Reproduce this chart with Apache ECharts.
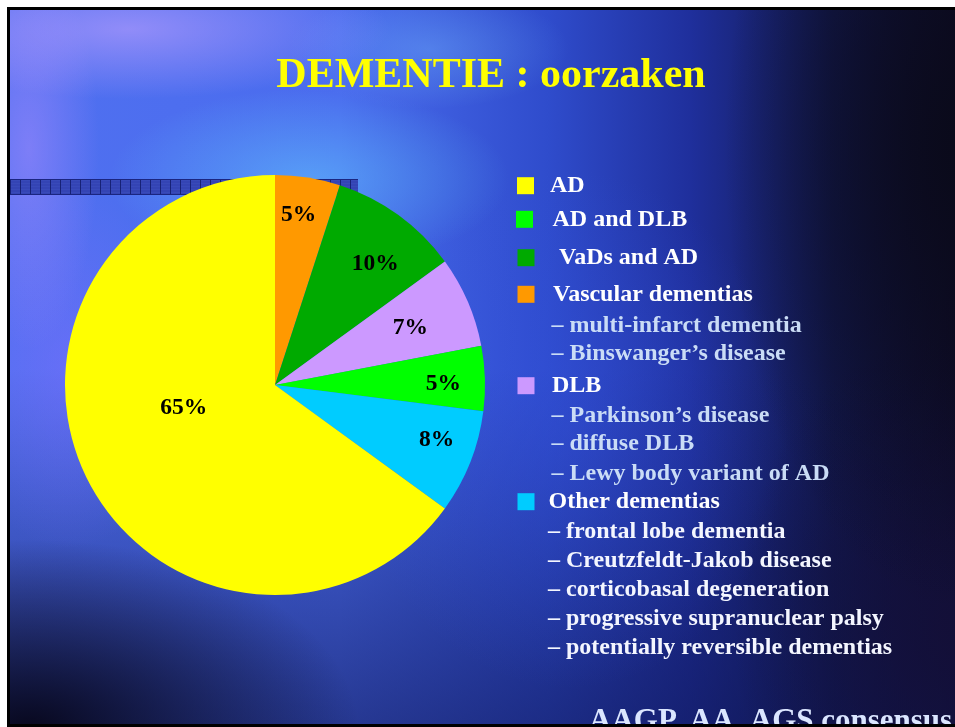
<!DOCTYPE html>
<html>
<head>
<meta charset="utf-8">
<script src="https://cdn.jsdelivr.net/npm/echarts@6/dist/echarts.min.js"></script>
<style>
  html, body { margin: 0; padding: 0; background: #fff; }
  #wrap { position: relative; width: 955px; height: 727px; overflow: hidden; background: #fff; }
  #bg {
    position: absolute; left: 9px; top: 9px; width: 946px; height: 718px;
    background:
      radial-gradient(ellipse 260px 70px at 120px 20px, rgba(190,160,255,0.6), rgba(190,160,255,0) 100%),
      radial-gradient(ellipse 70px 200px at 20px 140px, rgba(170,140,255,0.5), rgba(170,140,255,0) 100%),
      radial-gradient(ellipse 200px 90px at 300px 170px, rgba(100,205,255,0.5), rgba(100,205,255,0) 100%),
      radial-gradient(ellipse 140px 60px at 420px 40px, rgba(120,190,255,0.35), rgba(120,190,255,0) 100%),
      radial-gradient(ellipse 120px 180px at 60px 360px, rgba(130,110,255,0.45), rgba(130,110,255,0) 100%),
      radial-gradient(ellipse 330px 190px at 20px 720px, rgba(8,8,30,1), rgba(8,8,30,0) 100%),
      radial-gradient(ellipse 240px 460px at 955px 140px, rgba(10,10,26,1), rgba(10,10,26,0) 100%),
      radial-gradient(ellipse 220px 300px at 945px 620px, rgba(20,15,55,0.85), rgba(20,15,55,0) 100%),
      radial-gradient(ellipse 220px 260px at 560px 420px, rgba(50,80,220,0.45), rgba(50,80,220,0) 100%),
      linear-gradient(to bottom, rgba(10,15,60,0) 50%, rgba(15,22,85,0.6) 100%),
      linear-gradient(to right, #5070f0 0%, #4a6cee 35%, #2f4ccc 57%, #1f2f9c 72%, #12184c 87%, #0f0c2a 100%);
  }
  #bar {
    position: absolute; left: 10px; top: 179px; width: 348px; height: 14px;
    background:
      repeating-linear-gradient(to right, rgba(20,30,110,0.9) 0 1px, rgba(0,0,0,0) 1px 10px),
      repeating-linear-gradient(to bottom, rgba(60,80,190,0.5) 0 1px, rgba(0,0,0,0) 1px 3px),
      #3444b4;
    border-top: 1px solid #1a2580; border-bottom: 1px solid #1a2580;
  }
  #chart { position: absolute; left: 0; top: 0; width: 955px; height: 727px; }
  .frame { position: absolute; background: #000; }
</style>
</head>
<body>
<div id="wrap">
  <div id="bg"></div>
  <div id="bar"></div>
  <div id="chart"></div>
  <div class="frame" style="left:7px;top:7px;width:948px;height:3px;"></div>
  <div class="frame" style="left:7px;top:7px;width:3px;height:720px;"></div>
  <div class="frame" style="left:7px;top:724px;width:948px;height:3px;"></div>
</div>
<script>
// ---- data ----
const titleText = 'DEMENTIE : oorzaken';
const categories = ['Vascular dementias', 'VaDs and AD', 'DLB', 'AD and DLB', 'Other dementias', 'AD'];
const values = [5, 10, 7, 5, 8, 65];
const legendOrder = ['AD', 'AD and DLB', 'VaDs and AD', 'Vascular dementias', 'DLB', 'Other dementias'];
const subVascular = ['– multi-infarct dementia', '– Binswanger’s disease'];
const subDLB = ['– Parkinson’s disease', '– diffuse DLB', '– Lewy body variant of AD'];
const subOther = ['– frontal lobe dementia', '– Creutzfeldt-Jakob disease', '– corticobasal degeneration', '– progressive supranuclear palsy', '– potentially reversible dementias'];
const footerText = 'AAGP, AA, AGS consensus';

// ---- styles ----
const colorMap = {
  'AD': '#ffff00', 'AD and DLB': '#00ff00', 'VaDs and AD': '#00aa00',
  'Vascular dementias': '#ff9900', 'DLB': '#cc99ff', 'Other dementias': '#00ccff'
};
const labelShift = {
  'Vascular dementias': [-3, -2], 'VaDs and AD': [0, 17], 'DLB': [-21, 11],
  'AD and DLB': [-2, 4], 'Other dementias': [3, -8], 'AD': [5, -26]
};
const FONT = '"Liberation Serif", "Times New Roman", serif';
const legendPos = {
  'AD': { left: 517, cy: 185.7, pad: 11 },
  'AD and DLB': { left: 516, cy: 219.3, pad: 14.5 },
  'VaDs and AD': { left: 517.5, cy: 257.7, pad: 19.5 },
  'Vascular dementias': { left: 517.5, cy: 294.3, pad: 13.5 },
  'DLB': { left: 517.5, cy: 385.7, pad: 12.5 },
  'Other dementias': { left: 517.5, cy: 501.7, pad: 9 }
};
const LFS = 24;

const chart = echarts.init(document.getElementById('chart'), null, { renderer: 'canvas' });

const legends = legendOrder.map(name => ({
  data: [name],
  left: legendPos[name].left,
  top: legendPos[name].cy - 12,
  orient: 'vertical',
  icon: 'rect',
  itemWidth: 17, itemHeight: 17,
  padding: 0,
  selectedMode: false,
  textStyle: {
    color: '#ffffff', fontFamily: FONT, fontWeight: 'bold', fontSize: LFS,
    lineHeight: 24, padding: [0, 0, 0, legendPos[name].pad]
  }
}));

const subGraphics = [];
const addSubs = (arr, x, ys, color) => arr.forEach((t, i) => subGraphics.push({
  type: 'text', x: x, y: ys[i], silent: true,
  style: { text: t, font: 'bold ' + LFS + 'px ' + FONT, fill: color, verticalAlign: 'middle', align: 'left' }
}));
addSubs(subVascular, 551.5, [325.5, 354], '#cadcf6');
addSubs(subDLB, 551.5, [415.5, 444, 473.5], '#cadcf6');
addSubs(subOther, 548, [532, 561, 590, 619, 648], '#f4f6ff');

const labelFont = { color: '#000', fontFamily: FONT, fontWeight: 'bold', fontSize: 23.5 };

chart.setOption({
  backgroundColor: 'transparent',
  animation: false,
  title: {
    text: titleText, left: 486, top: 50, textAlign: 'center',
    textStyle: { color: '#ffff00', fontFamily: FONT, fontWeight: 'bold', fontSize: 42 }
  },
  legend: legends,
  series: [
    {
      type: 'pie', center: [275, 385], radius: [0, 210], startAngle: 90, clockwise: true,
      silent: true, itemStyle: { borderWidth: 0 },
      label: { show: false },
      labelLine: { show: false },
      data: categories.map((name, i) => ({
        name, value: values[i], itemStyle: { color: colorMap[name] },
        label: name === 'AD'
          ? Object.assign({ show: true, position: 'inside', formatter: '{c}%', offset: labelShift[name] }, labelFont)
          : { show: false }
      }))
    },
    {
      type: 'pie', center: [275, 385], radius: [125, 210], startAngle: 90, clockwise: true,
      silent: true, legendHoverLink: false,
      itemStyle: { color: 'rgba(0,0,0,0)', borderWidth: 0 },
      label: Object.assign({ show: true, position: 'inside', formatter: '{c}%' }, labelFont),
      labelLine: { show: false },
      data: categories.map((name, i) => ({
        name: name + ' ', value: values[i],
        label: { show: name !== 'AD', offset: labelShift[name] }
      }))
    }
  ],
  graphic: subGraphics.concat([{
    type: 'text', x: 589, y: 722, silent: true,
    style: { text: footerText, font: 'bold 31px ' + FONT, fill: '#dbe6ff', verticalAlign: 'middle', align: 'left' }
  }])
});
</script>
</body>
</html>
